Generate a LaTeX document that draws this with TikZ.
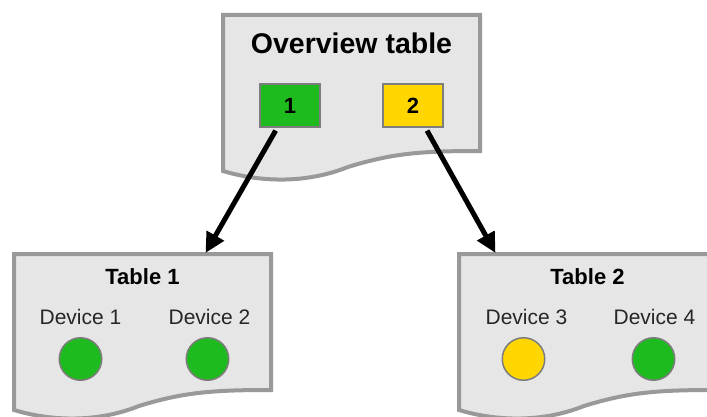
\documentclass[tikz,border=0pt]{standalone}
\usepackage{fontspec}
\setmainfont{Liberation Sans}
\usepackage{xcolor}
\usetikzlibrary{positioning,arrows.meta}

\definecolor{docfill}{RGB}{230,230,230}
\definecolor{docedge}{RGB}{153,153,153}
\definecolor{boxedge}{RGB}{125,125,125}
\definecolor{okgreen}{RGB}{30,187,30}
\definecolor{warnyellow}{RGB}{255,214,0}

% page outline with a wavy lower edge, hung from a node's corner
\newcommand{\docframe}[1]{%
    \draw[docline, shift={(#1.north west)}] (0,0) -- (257,0) -- (257,-136)
        .. controls (200,-136) and (170,-138) .. (125,-152)
        .. controls (85,-168) and (40,-168) .. (0,-156) -- cycle;}

\begin{document}
\begin{tikzpicture}[x=1pt, y=1pt,
        docbox/.style={minimum width=257pt, minimum height=156pt, inner sep=0pt, outer sep=0pt},
        docline/.style={draw=docedge, fill=docfill, line width=4pt, line join=miter},
        bigtitle/.style={font=\fontsize{28.5}{34}\selectfont\bfseries},
        smalltitle/.style={font=\fontsize{22}{26}\selectfont\bfseries},
        devtext/.style={font=\fontsize{21}{25}\selectfont, text=black!85},
        idbox/.style={draw=boxedge, line width=2pt, minimum width=60.5pt, minimum height=43pt,
            inner sep=0pt, font=\fontsize{22}{26}\selectfont\bfseries},
        led/.style={circle, draw=boxedge, line width=1.5pt, minimum size=42.5pt, inner sep=0pt},
        arrowline/.style={line width=5pt, -{Triangle[length=20pt, width=19pt]}, shorten <=3pt}]
    \useasboundingbox (0,0) rectangle (707,416);

    \node[docbox] (overview) at (351.5,323) {};
    \node[docbox] (table1) at (142.5,84) {};
    \node[docbox] (table2) at (587.5,84) {};

    \docframe{overview}
    \docframe{table1}
    \docframe{table2}

    \node[bigtitle] (ovtitle) at ([yshift=-28pt]overview.north) {Overview table};
    \node[idbox, fill=okgreen] (box1) at ([xshift=-61.5pt, yshift=-90.5pt]overview.north) {1};
    \node[idbox, fill=warnyellow] (box2) at ([xshift=61.5pt, yshift=-90.5pt]overview.north) {2};

    \node[smalltitle] (t1title) at ([yshift=-23pt]table1.north) {Table 1};
    \node[devtext] (dev1) at ([xshift=-62pt, yshift=-63pt]table1.north) {Device 1};
    \node[devtext] (dev2) at ([xshift=67pt, yshift=-63pt]table1.north) {Device 2};
    \node[led, fill=okgreen] (led1) at ([yshift=-42pt]dev1.center) {};
    \node[led, fill=okgreen] (led2) at ([xshift=-2pt, yshift=-42pt]dev2.center) {};

    \node[smalltitle] (t2title) at ([yshift=-23pt]table2.north) {Table 2};
    \node[devtext] (dev3) at ([xshift=-61pt, yshift=-63pt]table2.north) {Device 3};
    \node[devtext] (dev4) at ([xshift=67pt, yshift=-63pt]table2.north) {Device 4};
    \node[led, fill=warnyellow] (led3) at ([xshift=-3pt, yshift=-42pt]dev3.center) {};
    \node[led, fill=okgreen] (led4) at ([xshift=-1pt, yshift=-42pt]dev4.center) {};

    \coordinate (in1) at ([xshift=63pt, yshift=1pt]table1.north);
    \coordinate (in2) at ([xshift=-92pt, yshift=1pt]table2.north);

    \path[arrowline]
        (box1) edge (in1)
        (box2) edge (in2)
    ;
\end{tikzpicture}
\end{document}
